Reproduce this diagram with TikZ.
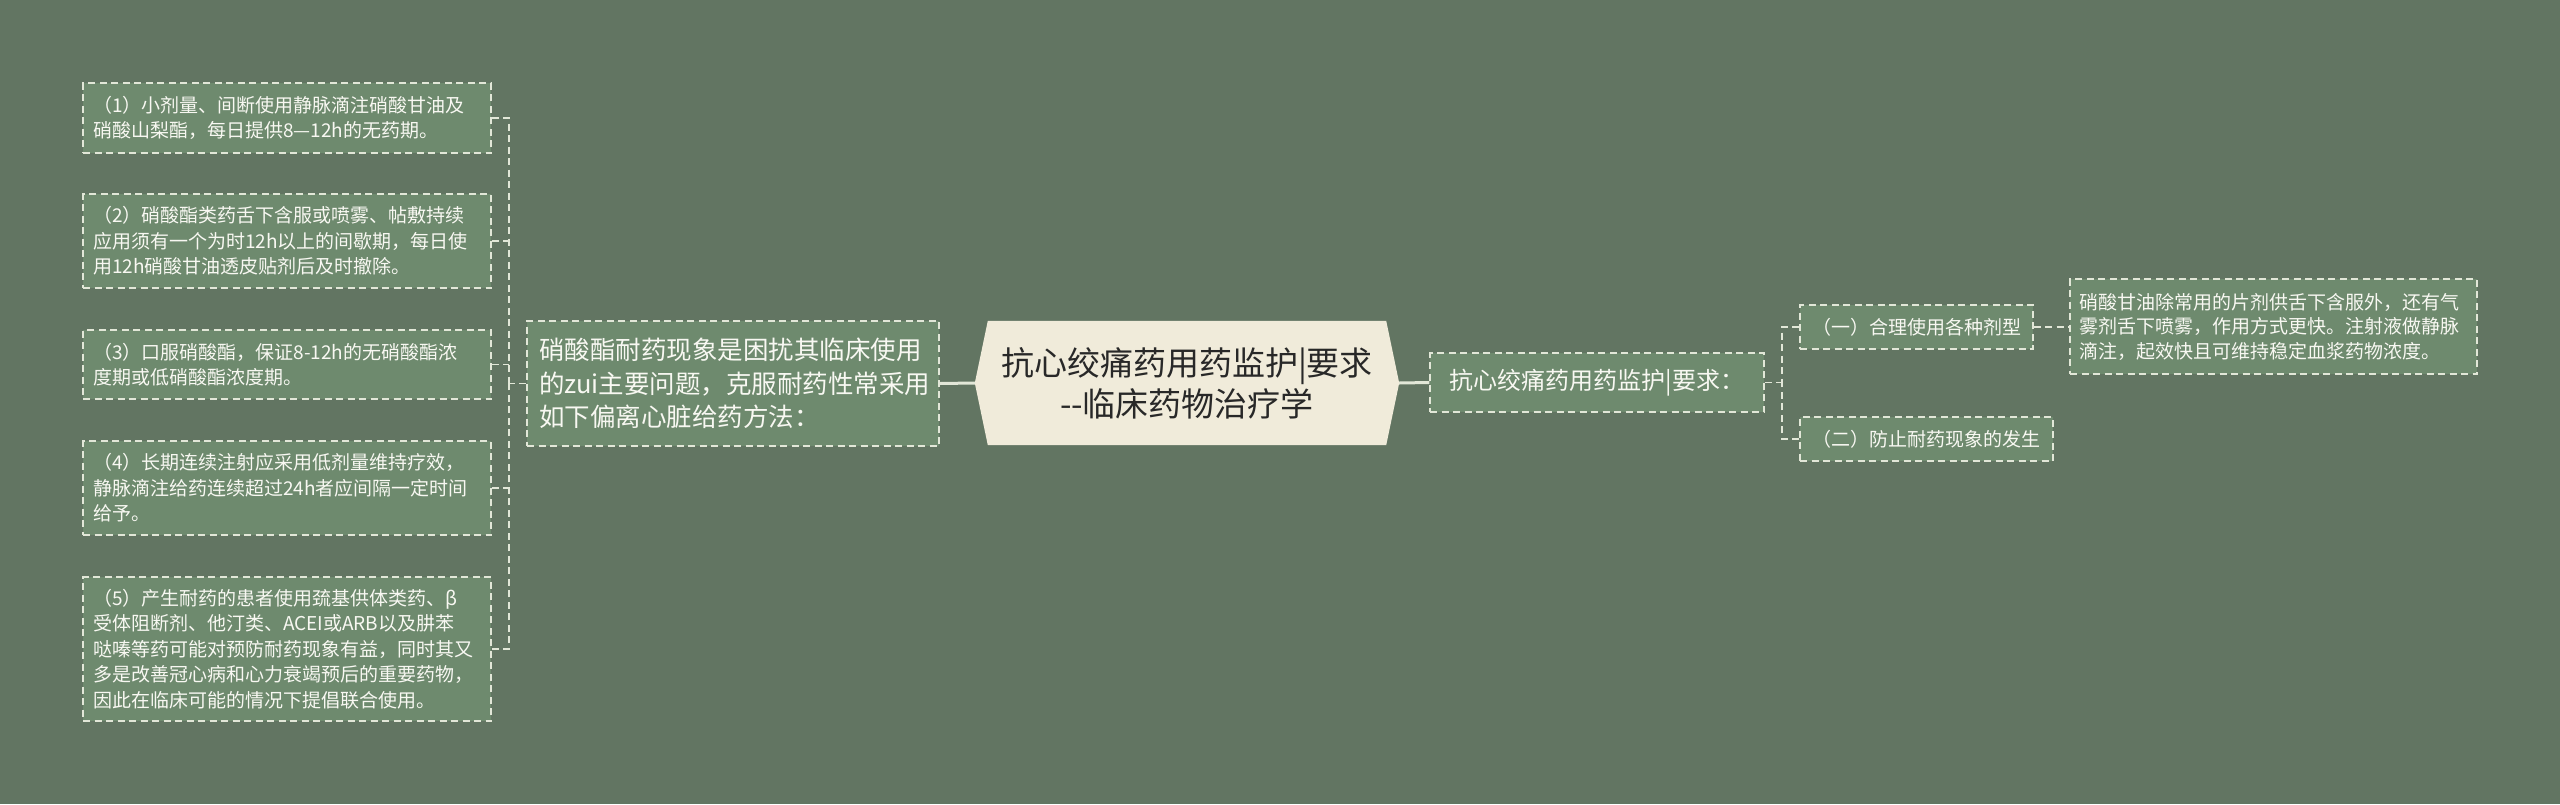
\documentclass[tikz,border=0pt]{standalone}
\usepackage{fontspec}
\setmainfont{Noto Sans CJK SC}
\usetikzlibrary{calc}
\pgfdeclarelayer{behind}
\pgfdeclarelayer{canvas}
\pgfsetlayers{canvas,behind,main}
\definecolor{bgc}{RGB}{98,117,98}
\definecolor{nodefill}{RGB}{110,138,110}
\definecolor{cream}{RGB}{240,235,218}
\definecolor{linec}{RGB}{226,231,216}
\definecolor{darktext}{RGB}{40,40,40}
\definecolor{boxtext}{RGB}{248,248,242}
\begin{document}
\begin{tikzpicture}[x=1pt,y=-1pt,
  box/.style={draw=linec, dash pattern=on 7pt off 4.5pt, line width=1.4pt, fill=nodefill,
    text=boxtext, align=left, inner ysep=0pt, anchor=center},
  small/.style={font=\fontsize{19}{25.5}\selectfont},
  conn/.style={draw=linec, dash pattern=on 7pt off 4.5pt, line width=1.4pt},
  solidconn/.style={draw=linec, line width=3pt}
]
\begin{pgfonlayer}{canvas}
\fill[bgc] (0,0) rectangle (2560,804);
\end{pgfonlayer}
\useasboundingbox (0,0) rectangle (2560,804);

% left leaf boxes
\node[box, small, inner xsep=10pt, text width=388pt, minimum height=70pt] (b1) at (287,118)
  {（1）小剂量、间断使用静脉滴注硝酸甘油及\\硝酸山梨酯，每日提供8—12h的无药期。};
\node[box, small, inner xsep=10pt, text width=388pt, minimum height=94pt] (b2) at (287,241)
  {（2）硝酸酯类药舌下含服或喷雾、帖敷持续\\应用须有一个为时12h以上的间歇期，每日使\\用12h硝酸甘油透皮贴剂后及时撤除。};
\node[box, small, inner xsep=10pt, text width=388pt, minimum height=69pt] (b3) at (287,364.5)
  {（3）口服硝酸酯，保证8-12h的无硝酸酯浓\\度期或低硝酸酯浓度期。};
\node[box, small, inner xsep=10pt, text width=388pt, minimum height=94pt] (b4) at (287,488)
  {（4）长期连续注射应采用低剂量维持疗效，\\静脉滴注给药连续超过24h者应间隔一定时间\\给予。};
\node[box, small, inner xsep=10pt, text width=388pt, minimum height=144pt] (b5) at (287,649)
  {（5）产生耐药的患者使用巯基供体类药、β\\受体阻断剂、他汀类、ACEI或ARB以及肼苯\\哒嗪等药可能对预防耐药现象有益，同时其又\\多是改善冠心病和心力衰竭预后的重要药物，\\因此在临床可能的情况下提倡联合使用。};

% middle left node
\node[box, font=\fontsize{25.5}{33.5}\selectfont, inner xsep=12pt, text width=388pt, minimum height=125pt] (mid) at (733,383.5)
  {硝酸酯耐药现象是困扰其临床使用\\的zui主要问题，克服耐药性常采用\\如下偏离心脏给药方法：};

% center node
\node[font=\fontsize{33}{41}\selectfont, text=darktext, align=center, minimum width=424pt, minimum height=124pt, inner sep=0pt] (c) at (1187,383)
  {抗心绞痛药用药监护|要求\\-{}-临床药物治疗学};
\begin{pgfonlayer}{behind}
\fill[cream] ([xshift=13pt]c.north west) -- ([xshift=-13pt]c.north east) -- (c.east)
  -- ([xshift=-13pt]c.south east) -- ([xshift=13pt]c.south west) -- (c.west) -- cycle;
\end{pgfonlayer}

% right side
\node[box, font=\fontsize{24}{30}\selectfont, align=center, minimum width=334pt, minimum height=59pt] (rn) at (1597,382.5)
  {抗心绞痛药用药监护|要求：};
\node[box, small, align=center, minimum width=233pt, minimum height=44pt] (r1) at (1916.5,327)
  {（一）合理使用各种剂型};
\node[box, small, align=center, minimum width=253pt, minimum height=44pt] (r2) at (1926.5,439)
  {（二）防止耐药现象的发生};
\node[box, font=\fontsize{19}{24.5}\selectfont, inner xsep=9pt, text width=389pt, minimum height=95pt] (r3) at (2273.5,326.5)
  {硝酸甘油除常用的片剂供舌下含服外，还有气\\雾剂舌下喷雾，作用方式更快。注射液做静脉\\滴注，起效快且可维持稳定血浆药物浓度。};

% connectors
\coordinate (lt) at (509,383.5);
\coordinate (rt) at (1782,382.5);
\draw[solidconn] (c.west) -- (mid.east);
\draw[solidconn] (c.east) -- (rn.west);
\draw[conn] (mid.west) -- (lt);
\draw[conn] (b1.east) -| (lt);
\draw[conn] (b5.east) -| (lt);
\draw[conn] (b2.east) -- (b2.east -| lt);
\draw[conn] (b3.east) -- (b3.east -| lt);
\draw[conn] (b4.east) -- (b4.east -| lt);
\draw[conn] (rn.east) -- (rt);
\draw[conn] (r1.west) -| (rt);
\draw[conn] (r2.west) -| (rt);
\draw[conn] (r1.east) -- (r1.east -| r3.west);
\end{tikzpicture}
\end{document}
